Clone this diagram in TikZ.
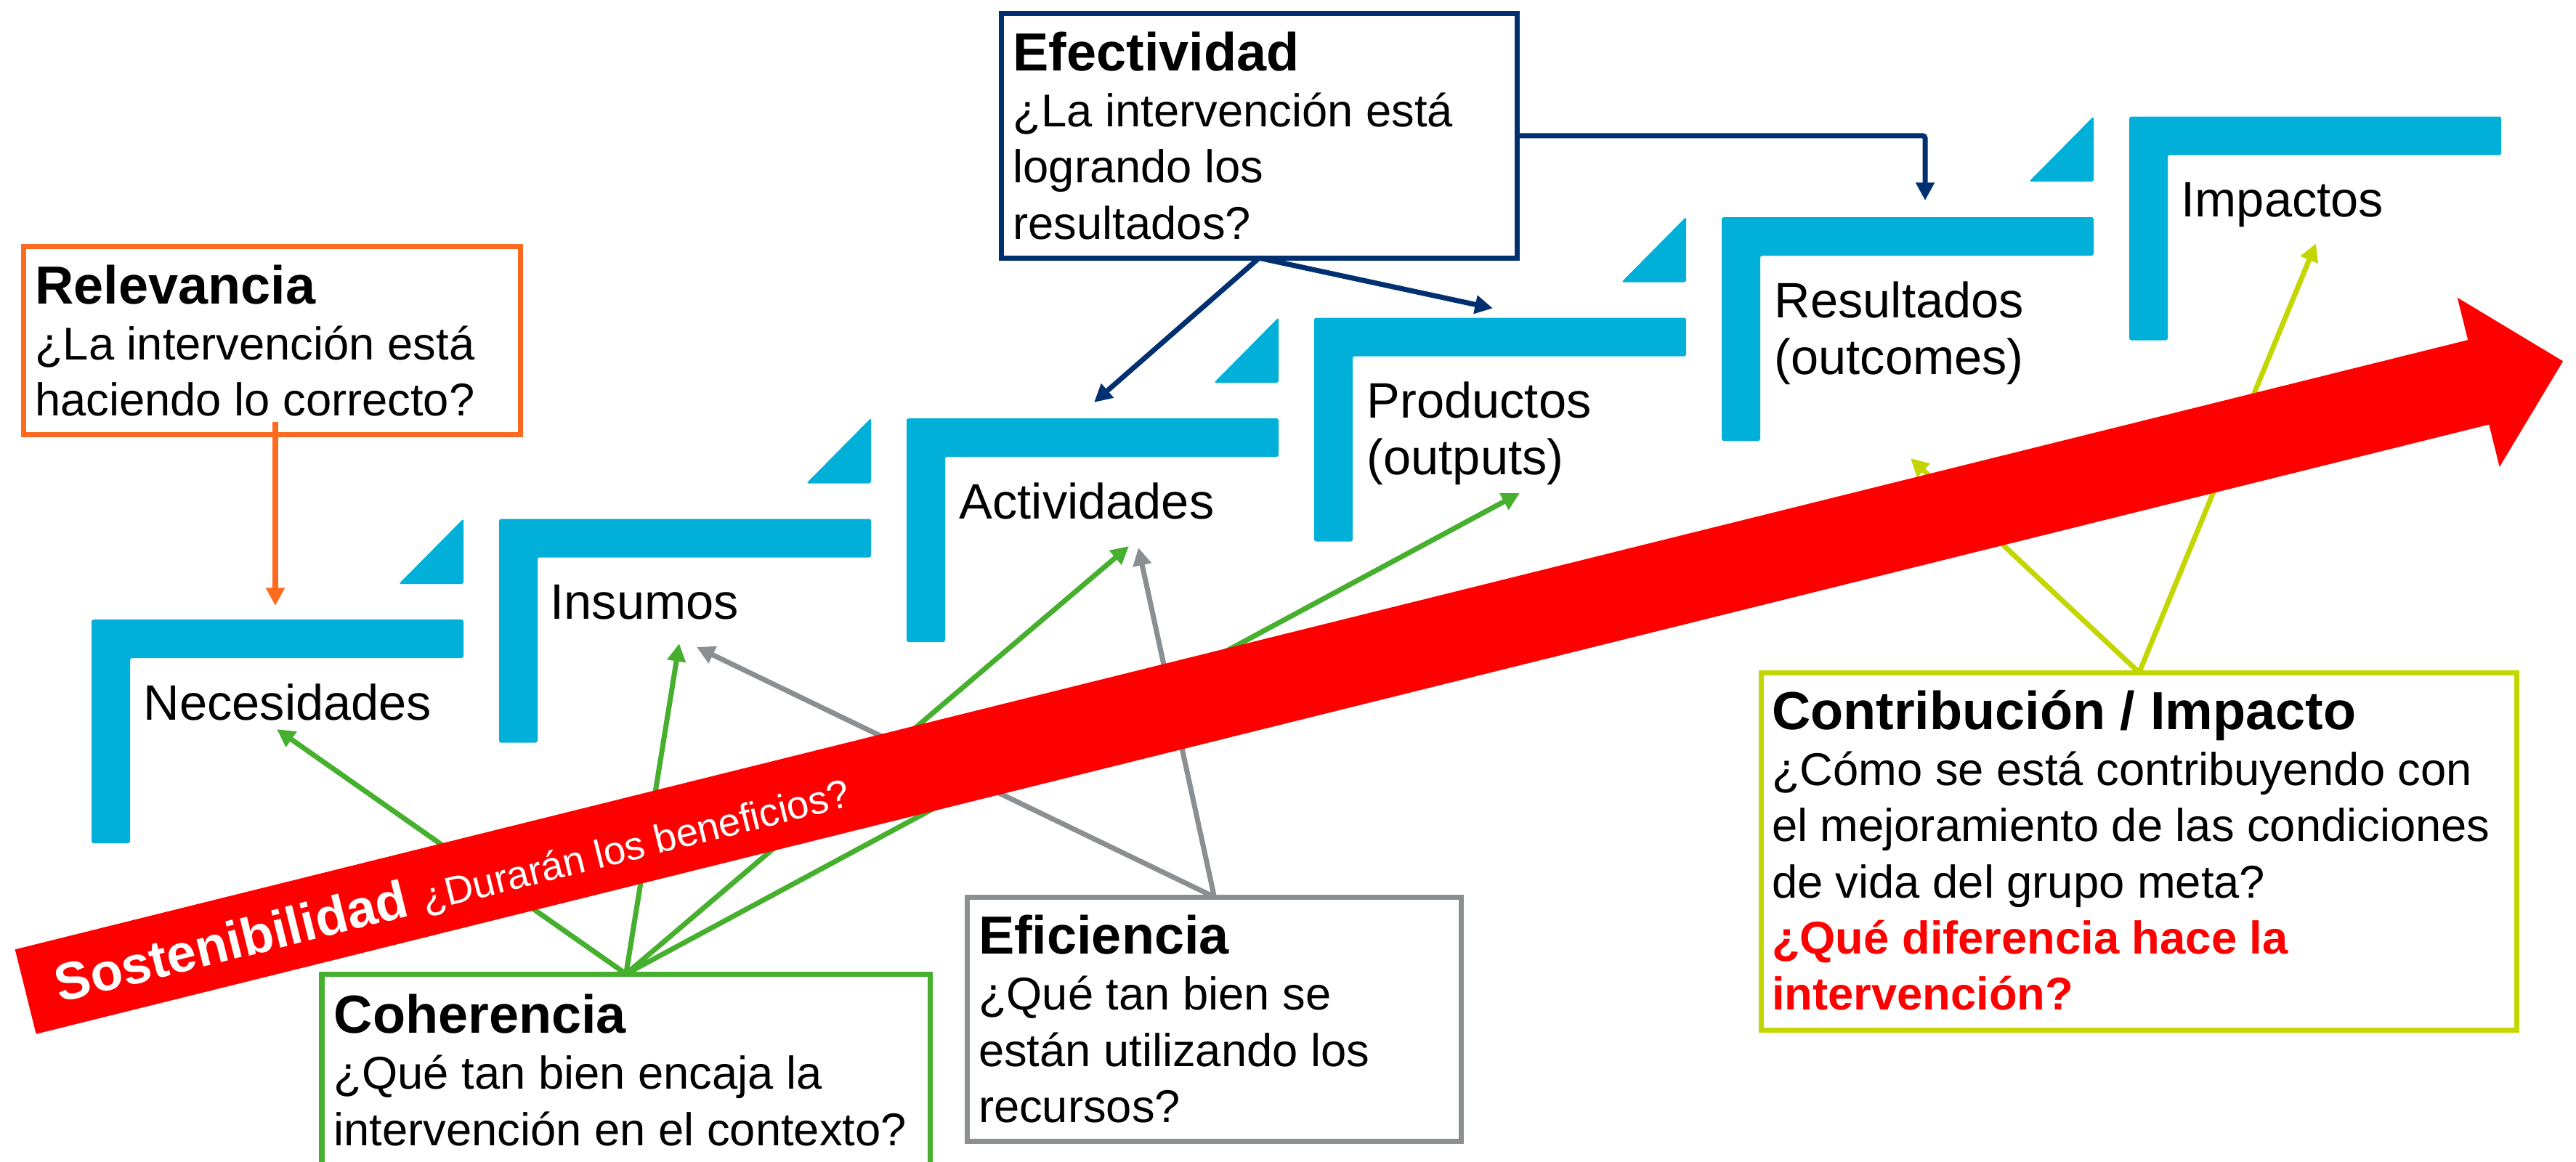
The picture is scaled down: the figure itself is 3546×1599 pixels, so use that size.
\documentclass[tikz,border=0pt]{standalone}
\usepackage{fontspec}
\setmainfont{Liberation Sans}
\usetikzlibrary{arrows.meta,calc}
\definecolor{cyanL}{HTML}{00B0D8}
\definecolor{orangeC}{HTML}{FF6A21}
\definecolor{navyC}{HTML}{003070}
\definecolor{greenC}{HTML}{46B02E}
\definecolor{grayC}{HTML}{8C8F92}
\definecolor{limeC}{HTML}{C4D600}
\definecolor{redC}{HTML}{FF0000}
\newcommand{\boxtitle}[1]{{\fontsize{21}{22}\selectfont\bfseries #1}}
\newcommand{\redline}[1]{\textcolor{redC}{\bfseries #1}}
\newcommand{\stacklines}[1]{\begin{tabular}[t]{@{}l@{}}#1\end{tabular}}
\begin{document}
\begin{tikzpicture}[x=0.01cm,y=-0.01cm,
  lbl/.style={font=\fontsize{19.5}{22.2}\selectfont, anchor=base west, inner sep=0pt},
  qbox/.style={draw=#1, line width=2pt, fill=white, inner sep=0pt, outer sep=0pt, anchor=north west},
  qtext/.style={font=\fontsize{18}{22}\selectfont, anchor=base west, inner sep=0pt},
  conn/.style={line width=2pt, -{Triangle[length=7pt,width=7pt]}},
  lshape/.style={fill=cyanL, rounded corners=0.8pt}
]
\useasboundingbox (0,0) rectangle (3546,1599);
\fill[white] (0,0) rectangle (3546,1599);

% staircase L shapes
\foreach \k in {0,...,5}{
  \fill[lshape] ({126+561*\k},{853-138.5*\k}) -- ++(512,0) -- ++(0,53) -- ++(-459,0) -- ++(0,255) -- ++(-53,0) -- cycle;
}
\foreach \k in {0,...,4}{
  \fill[lshape] ({638+561*\k},{714-138.5*\k}) -- ++(0,90) -- ++(-89,0) -- cycle;
}

% stage labels
\node[lbl] (nec)  at (197,991)    {Necesidades};
\node[lbl] (ins)  at (757,852.5)  {Insumos};
\node[lbl] (act)  at (1320,714)   {Actividades};
\node[lbl] (prod) at (1881,575.5) {\stacklines{Productos\\(outputs)}};
\node[lbl] (res)  at (2442,437)   {\stacklines{Resultados\\(outcomes)}};
\node[lbl] (imp)  at (3002,298.5) {Impactos};

% arrow tip coordinates
\coordinate (tNecO)  at (379,834);
\coordinate (tNecG)  at (381,1004);
\coordinate (tInsG)  at (935,886);
\coordinate (tInsY)  at (959,891);
\coordinate (tActG)  at (1554,752);
\coordinate (tActY)  at (1567,754);
\coordinate (tProdG) at (2092,679);
\coordinate (tActN)  at (1506,554);
\coordinate (tProdN) at (2055,424.5);
\coordinate (tResN)  at (2650,276);
\coordinate (tResL)  at (2630,631);
\coordinate (tImpL)  at (3188,335);

% question boxes
\node[qbox=orangeC, minimum width=6.84cm, minimum height=2.59cm] (relev) at (32.5,339.5) {};
\node[qbox=navyC, minimum width=7.10cm, minimum height=3.365cm] (effect) at (1378,18.5) {};
\node[qbox=greenC, minimum width=8.37cm, minimum height=3.0cm] (coher) at (443,1341) {};
\node[qbox=grayC, minimum width=6.80cm, minimum height=3.36cm] (efic) at (1331.3,1235) {};
\node[qbox=limeC, minimum width=10.40cm, minimum height=4.92cm] (contrib) at (2424.3,926) {};

% connectors
\draw[conn, orangeC, shorten <=-5pt] (relev.south -| tNecO) -- (tNecO);
\draw[conn, navyC] (effect.south) -- (tActN);
\draw[conn, navyC] (effect.south) -- (tProdN);
\draw[conn, navyC, rounded corners=1pt] (effect.east) -| (tResN);
\draw[conn, greenC] (coher.north) -- (tNecG);
\draw[conn, greenC] (coher.north) -- (tInsG);
\draw[conn, greenC] (coher.north) -- (tActG);
\draw[conn, greenC] (coher.north) -- (tProdG);
\draw[conn, grayC] (efic.north) -- (tInsY);
\draw[conn, grayC] (efic.north) -- (tActY);
\draw[conn, limeC] (contrib.north) -- (tResL);
\draw[conn, limeC] (contrib.north) -- (tImpL);

% big red arrow
\fill[redC] (20.7,1307.3) -- (3397.2,468.1) -- (3382.7,409.8) -- (3528.1,497.3)
  -- (3440.7,642.8) -- (3426.2,584.5) -- (49.7,1423.7) -- cycle;
\node[font=\fontsize{20.7}{24}\selectfont\bfseries, text=white, rotate=13.96, anchor=base west, inner sep=0pt]
  (sost) at (82.2,1380.6) {Sostenibilidad {\fontsize{15.5}{18}\selectfont\mdseries ¿Durarán los beneficios?}};

% box texts
\node[qtext] (relevT) at ($(relev.north west)+(15,78.5)$)
  {\stacklines{\boxtitle{Relevancia}\\¿La intervención está\\haciendo lo correcto?}};
\node[qtext] (effectT) at ($(effect.north west)+(16,78.5)$)
  {\stacklines{\boxtitle{Efectividad}\\¿La intervención está\\logrando los\\resultados?}};
\node[qtext] (coherT) at ($(coher.north west)+(16,81.5)$)
  {\stacklines{\boxtitle{Coherencia}\\¿Qué tan bien encaja la\\intervención en el contexto?}};
\node[qtext] (eficT) at ($(efic.north west)+(15,78.5)$)
  {\stacklines{\boxtitle{Eficiencia}\\¿Qué tan bien se\\están utilizando los\\recursos?}};
\node[qtext] (contribT) at ($(contrib.north west)+(14,78)$)
  {\stacklines{\boxtitle{Contribución / Impacto}\\¿Cómo se está contribuyendo con\\el mejoramiento de las condiciones\\de vida del grupo meta?\\\redline{¿Qué diferencia hace la}\\\redline{intervención?}}};
\end{tikzpicture}
\end{document}
